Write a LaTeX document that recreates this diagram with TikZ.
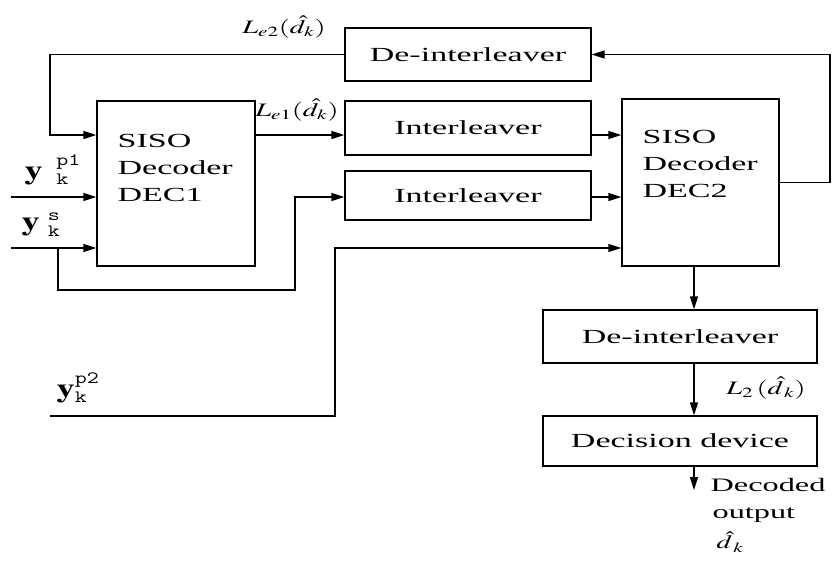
\documentclass[tikz,border=0pt]{standalone}
\usepackage{mathptmx}
\usepackage{graphicx}
\usepackage{fontspec}
\setmainfont{Liberation Serif}[FakeStretch=1.7]
\setmonofont{Liberation Mono}
\usetikzlibrary{arrows.meta}
% wide-set math, to go with the stretched text face
\newcommand{\widemath}[1]{\scalebox{1.5}[1]{$#1$}}
\newcommand{\yin}[3]{\scalebox{1.35}[1]{$\mathbf{y}^{\hspace{#3}\scriptscriptstyle\mathtt{#1}}_{\hspace{#3}\scriptscriptstyle\mathtt{#2}}$}}
\begin{document}
\begin{tikzpicture}[x=1pt,y=-1pt,line width=1.3pt,
  >={Triangle[length=13pt,width=8pt]},
  blk/.style={draw,rectangle,inner sep=0pt,font=\fontsize{20}{27}\selectfont},
  dectext/.style={anchor=north west,align=left,inner sep=0pt,font=\fontsize{20}{27}\selectfont},
  lbl/.style={inner sep=0pt,font=\fontsize{19}{22}\selectfont},
  yinput/.style={inner sep=0pt,font=\fontsize{27}{30}\selectfont}]
\useasboundingbox (0,0) rectangle (835,565);

% blocks
\node[blk,minimum width=246pt,minimum height=53pt] (dint1) at (468,54.5) {De-interleaver};
\node[blk,minimum width=246pt,minimum height=54pt] (il1) at (468,128) {Interleaver};
\node[blk,minimum width=246pt,minimum height=49pt] (il2) at (468,195.5) {Interleaver};
\node[blk,minimum width=158pt,minimum height=165pt] (dec1) at (176,183.5) {};
\node[blk,minimum width=157pt,minimum height=167pt] (dec2) at (700.5,182.5) {};
\node[dectext] (dec1t) at (117,134) {SISO\\Decoder\\DEC1};
\node[dectext] (dec2t) at (642,130) {SISO\\Decoder\\DEC2};
\node[blk,minimum width=274pt,minimum height=53pt] (dint2) at (680,336.5) {De-interleaver};
\node[blk,minimum width=274pt,minimum height=50pt] (dev) at (680,441) {Decision device};

% routing points
\coordinate (r1) at (0,135);
\coordinate (r2) at (0,197);
\coordinate (r3) at (0,248);
\coordinate (col) at (694,0);
\coordinate (fbR) at (830,54.5);
\coordinate (fbL) at (50,54.5);
\coordinate (yp1s) at (11,197);
\coordinate (yss) at (11,248);
\coordinate (brA) at (58,248);
\coordinate (brB) at (295,290);
\coordinate (p2s) at (50,416);
\coordinate (p2c) at (335,416);
\coordinate (outp) at (694,490);

% connectors
\draw[->] (dec2.east) -| (fbR) -- (dint1.east);
\draw[->] (dint1.west) -- (fbL) |- (dec1.west |- r1);
\draw[->] (dec1.east |- r1) -- (il1.west |- r1);
\draw[->] (il1.east |- r1) -- (dec2.west |- r1);
\draw[->] (il2.east |- r2) -- (dec2.west |- r2);
\draw[->] (yp1s) -- (dec1.west |- r2);
\draw[->] (yss) -- (dec1.west |- r3);
\draw[->] (brA) |- (brB) |- (il2.west |- r2);
\draw[->] (p2s) -- (p2c) |- (dec2.west |- r3);
\draw[->] (dec2.south -| col) -- (dint2.north -| col);
\draw[->] (dint2.south -| col) -- (dev.north -| col);
\draw[->] (dev.south -| col) -- (outp);

% labels
\node[lbl] (le2) at (284,27) {\widemath{L_{e2}(\hat{d}_k)}};
\node[lbl] (le1) at (297,110) {\widemath{L_{e1}(\hat{d}_k)}};
\node[lbl] (l2) at (766,388) {\widemath{L_2\,(\hat{d}_{\,k})}};
\node[lbl,anchor=west] (dcd) at (710,485) {Decoded};
\node[lbl,anchor=west] (outt) at (712,515) {output};
\node[lbl,anchor=west] (dk) at (716,542) {\widemath{\hat{d}_{\,k}}};
\node[yinput,anchor=west] (yp1) at (24,170) {\yin{p1}{k}{10pt}};
\node[yinput,anchor=west] (ys) at (21,225) {\yin{s}{k}{6pt}};
\node[yinput,anchor=west] (yp2) at (56,388) {\yin{p2}{k}{0pt}};
\end{tikzpicture}
\end{document}
